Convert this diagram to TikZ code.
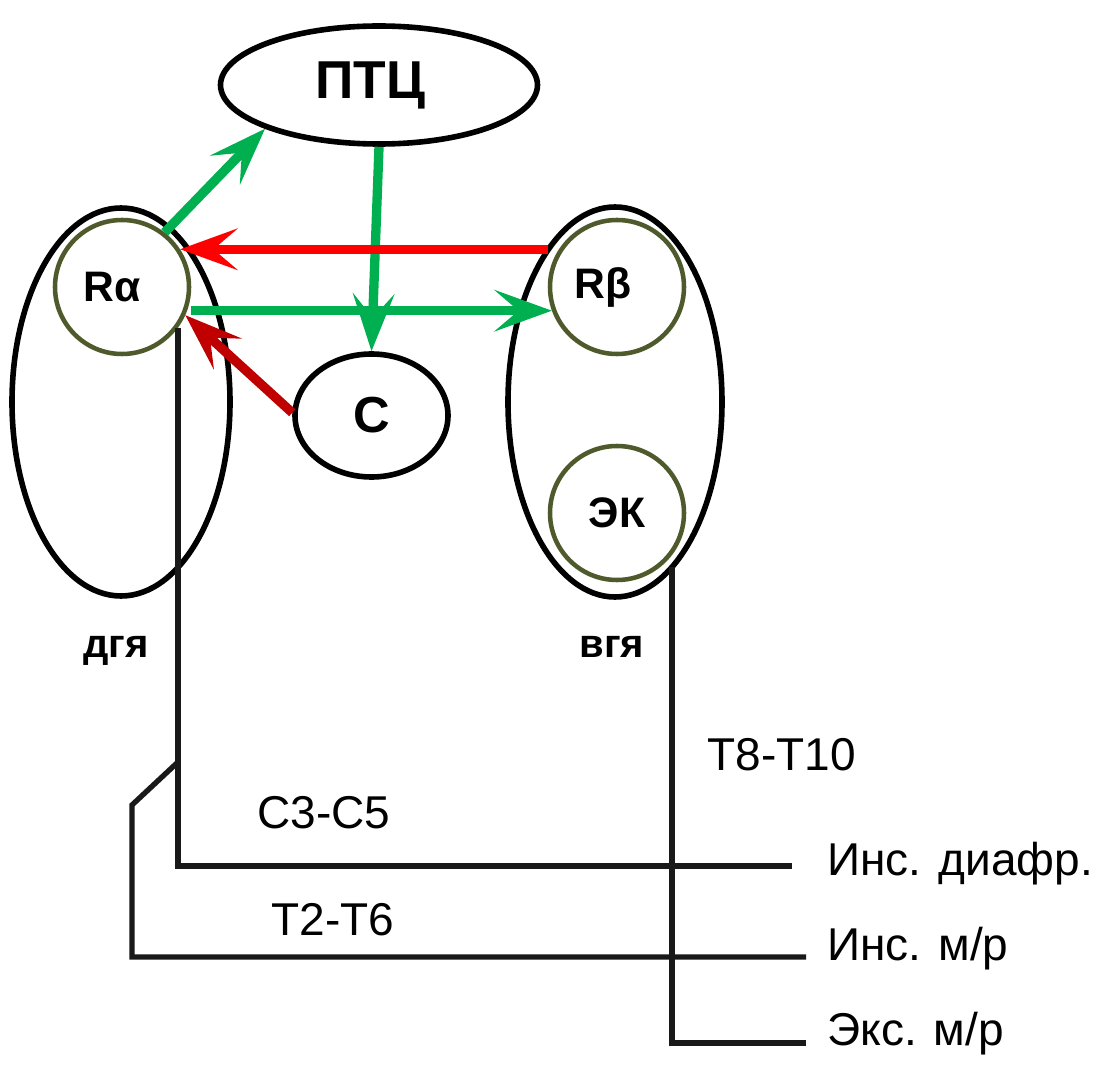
\documentclass[tikz,border=0pt]{standalone}
\usepackage{fontspec}
\setmainfont{Liberation Sans}
\usetikzlibrary{arrows.meta,shapes.geometric}
\definecolor{agreen}{RGB}{0,176,80}
\definecolor{ared}{RGB}{255,0,0}
\definecolor{dred}{RGB}{192,0,0}
\definecolor{olivec}{RGB}{78,90,44}
\begin{document}
\begin{tikzpicture}[x=0.75pt,y=-0.75pt,
  bigell/.style={ellipse, draw=black, line width=4.2pt, inner sep=0pt},
  rcirc/.style={circle, draw=olivec, line width=3.4pt, minimum size=100.5pt, inner sep=0pt, font=\bfseries\fontsize{32}{32}\selectfont},
  arr/.style={line width=7pt, -{Stealth[length=43pt,width=31pt,inset=18pt]}},
  wire/.style={line width=4pt, draw=black!90},
  lbl/.style={font=\fontsize{34.5}{34.5}\selectfont, inner sep=0pt},
  glbl/.style={font=\bfseries\fontsize{30}{30}\selectfont, inner sep=0pt, anchor=base}
]
\useasboundingbox (0,0) rectangle (1104,1066);
% groups
\node[bigell, minimum width=163.5pt, minimum height=291pt] (dgya) at (121,402) {};
\node[bigell, minimum width=160.5pt, minimum height=292.5pt] (vgya) at (615,402) {};
% receptors
\node[rcirc] (ra) at (122,287) {Rα\hspace*{15pt}};
\node[rcirc] (rb) at (617,287) {Rβ\hspace*{21pt}};
\node[rcirc] (ek) at (617,513) {ЭК};
% centres
\node[bigell, minimum width=237.75pt, minimum height=88.5pt, font=\bfseries\fontsize{40}{40}\selectfont] (ptc) at (379,85) {ПТЦ\hspace*{13.5pt}};
\node[bigell, minimum width=114.75pt, minimum height=92.25pt, font=\bfseries\fontsize{38}{38}\selectfont] (c) at (371.5,415.5) {С};
% labels
\node[glbl] (ldg) at (116,657) {дгя};
\node[glbl] (lvg) at (612,657) {вгя};
\node[lbl, anchor=base] (lc35) at (324,828) {C3-C5};
\node[lbl, anchor=base] (lt26) at (333,935) {T2-T6};
\node[lbl, anchor=base] (lt810) at (782,770) {T8-T10};
\node[lbl, anchor=base west] (ldiaf) at (827,875) {Инс. диафр.};
\node[lbl, anchor=base west] (lins) at (827,960) {Инс. м/р};
\node[lbl, anchor=base west] (leks) at (827,1045) {Экс. м/р};
% arrows
\draw[arr, agreen] (ra.52) -- (ptc.201);
\draw[arr, agreen] (ptc.south) -- (c.north);
\draw[arr, ared] (ra.33 -| rb.west) -- (ra.33);
\draw[arr, agreen] (ra.east |- rb.200) -- (rb.200);
\draw[arr, dred] (c.178) -- (ra.-24);
% wires
\coordinate (e1) at (792,866);
\coordinate (yb) at (0,762);
\coordinate (b1) at (132,805);
\coordinate (e2) at (806,957);
\coordinate (s3) at (672,567);
\coordinate (e3) at (806,1043);
\draw[wire] (ra.-36) |- (e1);
\draw[wire] (ra.-36 |- yb) -- (b1) |- (e2);
\draw[wire] (s3) |- (e3);
\end{tikzpicture}
\end{document}
